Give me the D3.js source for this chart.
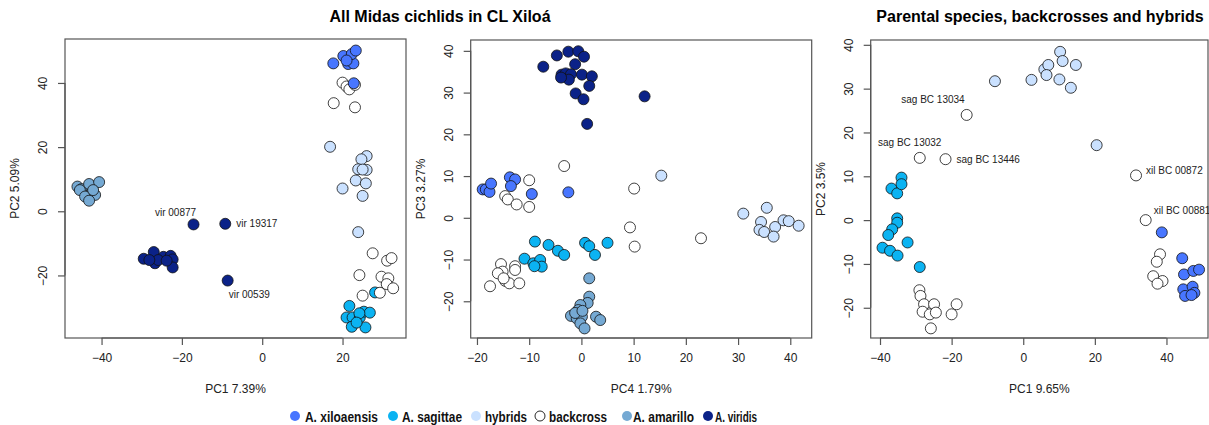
<!DOCTYPE html>
<html>
<head>
<meta charset="utf-8">
<script src="https://cdn.jsdelivr.net/npm/d3@7"></script>
<style>
  body { margin: 0; background: #fff; }
  svg { font-family: "Liberation Sans", Arial, Helvetica, sans-serif; }
</style>
</head>
<body>
<div id="chart"></div>
<script>
// ---- data ----
const groups = ["A. xiloaensis", "A. sagittae", "hybrids", "backcross", "A. amarillo", "A. viridis"];
const groupColors = ["#4876FF", "#0BB3F2", "#CAE1FF", "#FFFFFF", "#75A9D3", "#0B2288"];

// panel 1: PC1 vs PC2 (all Midas cichlids)
const p1_xiloaensis = [[17.7,46.1],[20.2,48.4],[21.4,45.9],[22.7,46.1],[22.3,49.0],[23.3,50.1],[21.0,47.0],[22.8,39.9]];
const p1_sagittae = [[28.1,-25.3],[21.7,-29.5],[21.0,-33.1],[22.5,-33.1],[24.3,-33.1],[25.3,-31.3],[26.8,-31.6],[22.3,-36.0],[25.7,-36.2],[24.2,-31.8],[23.5,-34.7]];
const p1_hybrids = [[16.9,20.1],[26.0,17.2],[24.7,16.2],[23.9,13.1],[26.0,12.9],[23.3,9.6],[25.8,8.7],[20.0,7.1],[25.0,4.8],[23.9,-6.5],[25.0,13.0]];
const p1_backcross = [[20.0,40.1],[21.0,38.9],[21.7,38.0],[23.1,39.4],[17.8,33.7],[23.1,32.4],
  [27.5,-13.1],[31.1,-15.4],[32.2,-14.6],[24.2,-19.9],[29.7,-20.4],[31.4,-20.9],[31.0,-22.7],[32.6,-24.0],[29.3,-25.4],[25.0,-26.3]];
const p1_amarillo = [[-46.0,7.7],[-45.0,6.9],[-43.1,8.5],[-40.6,9.1],[-45.4,6.6],[-42.9,5.1],[-44.1,4.6],[-41.6,5.1],[-43.1,3.3],[-42.1,6.6]];
const p1_viridis = [[-29.5,-14.8],[-27.0,-12.7],[-26.7,-16.2],[-24.6,-14.2],[-22.8,-13.9],[-22.3,-15.0],[-22.3,-17.5],[-25.9,-15.2],[-28.1,-15.2],[-23.8,-15.4],
  [-17.1,-4.1],[-9.2,-3.9],[-8.6,-21.6]];
const p1_labels = [{text:"vir 00877", x:-17.1, y:-4.1}, {text:"vir 19317", x:-9.2, y:-3.9}, {text:"vir 00539", x:-8.6, y:-21.6}];

// panel 2: PC4 vs PC3
const p2_xiloaensis = [[-18.9,6.8],[-18.3,6.8],[-17.6,6.2],[-17.3,8.2],[-13.7,9.7],[-12.7,9.2],[-13.5,7.6],[-9.5,5.7],[-2.5,6.1]];
const p2_sagittae = [[-8.9,-5.7],[-6.3,-6.5],[-4.5,-7.9],[-3.3,-8.9],[-10.9,-9.8],[-9.2,-10.9],[-7.9,-10.1],[-7.6,-11.7],[-9.0,-11.6],[0.7,-6.0],[1.5,-6.8],[2.6,-8.9],[5.0,-6.0]];
const p2_hybrids = [[15.3,10.1],[31.0,1.0],[35.5,2.4],[34.4,-1.0],[34.1,-2.9],[35.0,-3.4],[37.1,-2.2],[36.8,-4.5],[38.7,-0.6],[39.7,-0.8],[41.6,-1.9]];
const p2_backcross = [[-10.0,9.0],[-14.6,5.2],[-14.1,4.4],[-12.4,3.2],[-10.0,2.6],[-3.3,12.4],[10.1,7.0],[9.3,-2.3],[10.2,-6.9],[22.9,-4.9],
  [-15.4,-11.1],[-12.7,-11.6],[-15.1,-12.9],[-16.0,-13.3],[-14.6,-15.1],[-13.8,-15.7],[-11.9,-15.7],[-17.5,-16.4],[-12.7,-12.5],[-14.9,-14.5]];
const p2_amarillo = [[1.5,-14.5],[1.5,-18.9],[1.2,-20.4],[-0.2,-20.9],[-0.6,-22.1],[-2.0,-23.5],[-0.9,-24.1],[0.1,-23.7],[-0.2,-25.3],[0.6,-26.5],[2.8,-23.7],[3.6,-24.5],[-1.2,-22.8],[0.2,-22.3]];
const p2_viridis = [[-7.3,36.2],[-4.7,38.9],[-2.5,39.8],[-0.6,39.9],[0.5,38.6],[-1.2,36.8],[-3.8,34.3],[-3.0,34.6],[-2.0,34.4],[-2.4,33.1],[-3.9,33.6],[0.1,34.3],[2.0,33.9],[1.5,31.6],[-1.1,29.8],[0.4,28.4],[1.1,22.5],[12.1,29.1]];

// panel 3: PC1 vs PC2 (parental species, backcrosses and hybrids)
const p3_xiloaensis = [[38.7,-2.8],[44.4,-8.7],[44.9,-12.4],[47.5,-11.6],[49.1,-11.3],[44.7,-15.8],[45.2,-17.3],[47.3,-15.2],[47.8,-16.6],[47.0,-17.1]];
const p3_sagittae = [[-34.0,9.7],[-36.8,7.2],[-35.2,6.1],[-34.0,8.2],[-35.2,0.4],[-35.2,-0.6],[-36.6,-2.1],[-37.7,-3.4],[-32.3,-5.1],[-39.3,-6.3],[-37.2,-7.0],[-35.1,-8.1],[-28.9,-10.7]];
const p3_hybrids = [[-7.9,31.7],[2.3,32.0],[5.9,34.4],[7.0,35.4],[6.5,33.1],[10.3,38.4],[11.0,36.3],[14.7,35.4],[10.1,32.1],[13.3,30.2],[20.5,17.1]];
const p3_backcross = [[-15.8,24.0],[-28.9,14.2],[-21.7,13.9],[31.5,10.2],[34.2,0.0],
  [-29.0,-16.0],[-28.7,-17.3],[-27.7,-19.2],[-24.9,-19.2],[-28.1,-20.9],[-26.1,-21.5],[-24.4,-21.1],[-18.6,-19.2],[-20.0,-21.5],[-25.8,-24.7],
  [38.2,-7.8],[37.3,-9.5],[36.3,-12.8],[38.9,-13.9],[37.5,-14.5]];
const p3_labels = [{text:"sag BC 13034", x:-15.8, y:24.0}, {text:"sag BC 13032", x:-28.9, y:14.2}, {text:"sag BC 13446", x:-21.7, y:13.9},
  {text:"xil BC 00872", x:31.5, y:10.2}, {text:"xil BC 00881", x:34.2, y:0.0}];

// ticks
const p1_xticks = [-40, -20, 0, 20];
const p1_yticks = [-20, 0, 20, 40];
const p2_xticks = [-20, -10, 0, 10, 20, 30, 40];
const p2_yticks = [-20, -10, 0, 10, 20, 30, 40];
const p3_xticks = [-40, -20, 0, 20, 40];
const p3_yticks = [-20, -10, 0, 10, 20, 30, 40];

const titles = ["All Midas cichlids in CL Xiloá", "Parental species, backcrosses and hybrids"];

// ---- layout ----
const W = 1209, H = 425;
const frameColor = "#555";
const labelOffsets = {
  "vir 00877": [-18, -12, "middle"], "vir 19317": [11, 0, "start"], "vir 00539": [1, 14, "start"],
  "sag BC 13034": [-2, -15, "end"], "sag BC 13032": [-10, -15, "middle"], "sag BC 13446": [11, 0, "start"],
  "xil BC 00872": [10, -5, "start"], "xil BC 00881": [8, -10, "start"]
};

const svg = d3.select("#chart").append("svg").attr("width", W).attr("height", H);

const panels = [
  { left: 65, right: 406, top: 39, bottom: 338, xdom: [-49.1, 35.8], ydom: [-39.5, 53.7],
    xticks: p1_xticks, yticks: p1_yticks, xlab: "PC1 7.39%", ylab: "PC2 5.09%",
    series: [p1_xiloaensis, p1_sagittae, p1_hybrids, p1_backcross, p1_amarillo, p1_viridis], labels: p1_labels },
  { left: 470.7, right: 811.7, top: 40, bottom: 338, xdom: [-21.2, 44.1], ydom: [-28.8, 42.6],
    xticks: p2_xticks, yticks: p2_yticks, xlab: "PC4 1.79%", ylab: "PC3 3.27%",
    series: [p2_xiloaensis, p2_sagittae, p2_hybrids, p2_backcross, p2_amarillo, p2_viridis], labels: [] },
  { left: 870.7, right: 1208, top: 40, bottom: 338, xdom: [-42.6, 51.6], ydom: [-26.9, 41.1],
    xticks: p3_xticks, yticks: p3_yticks, xlab: "PC1 9.65%", ylab: "PC2 3.5%",
    series: [p3_xiloaensis, p3_sagittae, p3_hybrids, p3_backcross, [], []], labels: p3_labels }
];

// draw order so overlaps look like the original
const drawOrder = [4, 5, 1, 2, 3, 0];

panels.forEach((p, pi) => {
  const x = d3.scaleLinear().domain(p.xdom).range([p.left, p.right]);
  const y = d3.scaleLinear().domain(p.ydom).range([p.bottom, p.top]);
  const g = svg.append("g");

  // box
  g.append("rect")
    .attr("x", p.left).attr("y", p.top)
    .attr("width", p.right - p.left).attr("height", p.bottom - p.top)
    .attr("fill", "none").attr("stroke", frameColor).attr("stroke-width", 1.2);

  // x axis
  const xa = g.append("g").attr("transform", "translate(0," + p.bottom + ")")
    .call(d3.axisBottom(x).tickValues(p.xticks).tickSize(7).tickPadding(8).tickSizeOuter(0));
  // y axis
  const ya = g.append("g").attr("transform", "translate(" + p.left + ",0)")
    .call(d3.axisLeft(y).tickValues(p.yticks).tickSize(7).tickSizeOuter(0));
  [xa, ya].forEach(a => {
    a.select(".domain").remove();
    a.selectAll(".tick line").attr("stroke", frameColor).attr("stroke-width", 1.2);
    a.selectAll("text").attr("fill", "#222").style("font-size", "12px");
  });
  // axis lines only spanning the ticks, R style
  g.append("line").attr("x1", x(p.xticks[0])).attr("x2", x(p.xticks[p.xticks.length - 1]))
    .attr("y1", p.bottom).attr("y2", p.bottom).attr("stroke", frameColor).attr("stroke-width", 1.2);
  g.append("line").attr("y1", y(p.yticks[0])).attr("y2", y(p.yticks[p.yticks.length - 1]))
    .attr("x1", p.left).attr("x2", p.left).attr("stroke", frameColor).attr("stroke-width", 1.2);

  // rotated y tick labels
  ya.selectAll(".tick text")
    .attr("x", null).attr("dy", null)
    .attr("text-anchor", "middle")
    .attr("dominant-baseline", "central")
    .attr("transform", "translate(-22,0) rotate(-90)");

  // axis titles
  g.append("text").attr("x", (p.left + p.right) / 2).attr("y", 389)
    .attr("text-anchor", "middle").attr("dominant-baseline", "central")
    .style("font-size", "12px").attr("fill", "#222").text(p.xlab);
  g.append("text")
    .attr("transform", "translate(" + (p.left - 50) + "," + ((p.top + p.bottom) / 2) + ") rotate(-90)")
    .attr("text-anchor", "middle").attr("dominant-baseline", "central")
    .style("font-size", "12px").attr("fill", "#222").text(p.ylab);

  // points
  drawOrder.forEach(gi => {
    g.selectAll(null).data(p.series[gi]).enter().append("circle")
      .attr("cx", d => x(d[0])).attr("cy", d => y(d[1]))
      .attr("r", 5.5)
      .attr("fill", groupColors[gi])
      .attr("stroke", "#111").attr("stroke-width", 0.8);
  });

  // point labels
  g.selectAll(null).data(p.labels).enter().append("text")
    .attr("x", d => x(d.x) + labelOffsets[d.text][0])
    .attr("y", d => y(d.y) + labelOffsets[d.text][1])
    .attr("text-anchor", d => labelOffsets[d.text][2])
    .attr("dominant-baseline", "central")
    .style("font-size", "10px").attr("fill", "#222")
    .text(d => d.text);
});

// titles
svg.append("text").attr("x", 440).attr("y", 16).attr("text-anchor", "middle")
  .attr("dominant-baseline", "central").style("font-size", "16px").style("font-weight", "bold")
  .text(titles[0]);
svg.append("text").attr("x", 1040).attr("y", 16).attr("text-anchor", "middle")
  .attr("dominant-baseline", "central").style("font-size", "16px").style("font-weight", "bold")
  .text(titles[1]);

// legend (condensed bold text, squeezed to the original widths)
const legendCircleX = [295, 393, 476, 540, 627, 708];
const legendTextX = [305, 402, 485, 549, 633, 715];
const legendTextW = [73, 60, 42, 58, 61, 42];
const legend = svg.append("g");
groups.forEach((name, i) => {
  legend.append("circle").attr("cx", legendCircleX[i]).attr("cy", 416).attr("r", 5)
    .attr("fill", groupColors[i])
    .attr("stroke", i === 3 ? "#111" : "none").attr("stroke-width", 0.9);
  legend.append("text").attr("x", legendTextX[i]).attr("y", 416)
    .attr("dominant-baseline", "central")
    .attr("textLength", legendTextW[i]).attr("lengthAdjust", "spacingAndGlyphs")
    .style("font-size", "15px").style("font-weight", "bold").attr("fill", "#111")
    .text(name);
});
</script>
</body>
</html>
